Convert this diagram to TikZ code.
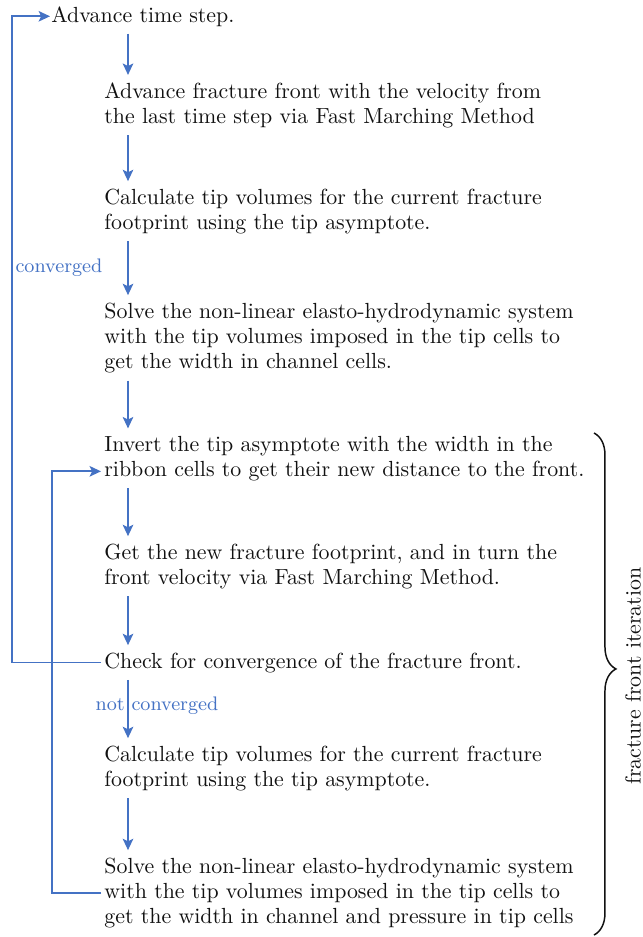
\documentclass[tikz,border=0pt]{standalone}
\usepackage{tikz}
\usetikzlibrary{arrows.meta,decorations.pathreplacing}
\definecolor{FlowBlue}{HTML}{4472C4}
\definecolor{Ink}{HTML}{111111}

\begin{document}
\begin{tikzpicture}[
    x=0.474pt, y=-0.474pt,
    stepbox/.style={anchor=base west, inner sep=0pt, text width=280pt, align=left, text=Ink, font=\fontsize{10.37pt}{12pt}\selectfont},
    flow/.style={draw=FlowBlue, line width=0.8pt, -{Stealth[length=5.4pt,width=5pt,inset=1.2pt]}},
    flowlabel/.style={font=\fontsize{9.3pt}{11pt}\selectfont, text=FlowBlue, inner sep=1pt}
  ]
  \useasboundingbox (0,0) rectangle (643,937);
  \node[stepbox] (advance) at (51,22) {Advance time step.};
  \node[stepbox] (march) at (104,98) {Advance fracture front with the velocity from\\the last time step via Fast Marching Method};
  \node[stepbox] (tipvol) at (104,204) {Calculate tip volumes for the current fracture\\footprint using the tip asymptote.};
  \node[stepbox] (solve) at (104,318) {Solve the non-linear elasto-hydrodynamic system\\with the tip volumes imposed in the tip cells to\\get the width in channel cells.};
  \node[stepbox] (invert) at (104,451) {Invert the tip asymptote with the width in the\\ribbon cells to get their new distance to the front.};
  \node[stepbox] (footprint) at (104,559) {Get the new fracture footprint, and in turn the\\front velocity via Fast Marching Method.};
  \node[stepbox] (check) at (104,668) {Check for convergence of the fracture front.};
  \node[stepbox] (tipvoltwo) at (104,761) {Calculate tip volumes for the current fracture\\footprint using the tip asymptote.};
  \node[stepbox] (solvetwo) at (104,873) {Solve the non-linear elasto-hydrodynamic system\\with the tip volumes imposed in the tip cells to\\get the width in channel and pressure in tip cells};

  \draw[flow] ([shift={(77,7)}]advance.south west) -- ([shift={(77,-7)}]advance.south west |- march.north west);
  \draw[flow] ([shift={(24,7)}]march.south west) -- ([shift={(24,-7)}]tipvol.north west);
  \draw[flow] ([shift={(24,7)}]tipvol.south west) -- ([shift={(24,-7)}]solve.north west);
  \draw[flow] ([shift={(24,7)}]solve.south west) -- ([shift={(24,-7)}]invert.north west);
  \draw[flow] ([shift={(24,7)}]invert.south west) -- ([shift={(24,-7)}]footprint.north west);
  \draw[flow] ([shift={(24,7)}]footprint.south west) -- ([shift={(24,-7)}]check.north west);
  \draw[flow] ([shift={(24,7)}]check.south west) -- ([shift={(24,-7)}]tipvoltwo.north west);
  \draw[flow] ([shift={(24,7)}]tipvoltwo.south west) -- ([shift={(24,-7)}]solvetwo.north west);

  \draw[flow] ([shift={(-3,0)}]check.west) -- ++(-89,0) |- ([shift={(-1,0)}]advance.west);
  \draw[flow] ([shift={(-3,0)}]solvetwo.west) -- ++(-49,0) |- ([shift={(-3,13)}]invert.west);
  \node[flowlabel, anchor=west] (convlabel) at (13,268) {converged};
  \node[flowlabel] (notconvlabel) at (157,706) {not converged};

  \draw[decorate, decoration={brace, amplitude=10.4pt, aspect=0.47}, line width=0.7pt, draw=Ink] (594,433) -- (594,935);
  \node[rotate=90, text=Ink, font=\fontsize{10.37pt}{12pt}\selectfont] (iterlabel) at (633,676) {fracture front iteration};
\end{tikzpicture}
\end{document}
